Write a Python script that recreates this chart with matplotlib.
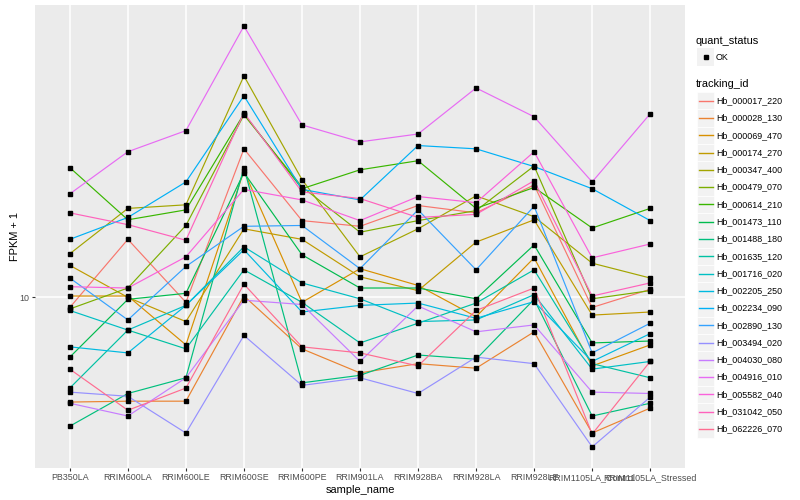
import matplotlib
matplotlib.use('Agg')
import matplotlib.pyplot as plt
from matplotlib.ticker import FixedLocator, NullLocator
from matplotlib.patches import Rectangle
from matplotlib.lines import Line2D
import numpy as np

samples = ["PB350LA", "RRIM600LA", "RRIM600LE", "RRIM600SE", "RRIM600PE",
           "RRIM901LA", "RRIM928BA", "RRIM928LA", "RRIM928LE",
           "RRIM1105LA_Control", "RRIM1105LA_Stressed"]

tracking_ids = ["Hb_000017_220", "Hb_000028_130", "Hb_000069_470", "Hb_000174_270",
                "Hb_000347_400", "Hb_000479_070", "Hb_000614_210", "Hb_001473_110",
                "Hb_001488_180", "Hb_001635_120", "Hb_001716_020", "Hb_002205_250",
                "Hb_002234_090", "Hb_002890_130", "Hb_003494_020", "Hb_004030_080",
                "Hb_004916_010", "Hb_005582_040", "Hb_031042_050", "Hb_062226_070"]

palette = ["#F8766D", "#EA8331", "#D89000", "#C09B00", "#A3A500", "#7CAE00",
           "#39B600", "#00BB4E", "#00BF7D", "#00C1A3", "#00BFC4", "#00BAE0",
           "#00B0F6", "#35A2FF", "#9590FF", "#C77CFF", "#E76BF3", "#FA62DB",
           "#FF62BC", "#FF6C91"]

# FPKM + 1 per sample (order of `samples`)
hb_000017_220 = [9.3, 15.2, 9.65, 29.2, 17.4, 16.7, 19.4, 18.4, 22.5, 9.3, 10.6]
hb_000028_130 = [4.7, 4.73, 4.73, 10.1, 6.9, 5.8, 6.2, 6.0, 7.8, 3.76, 4.5]
hb_000069_470 = [10.1, 10.1, 7.1, 24.9, 9.65, 12.3, 10.9, 8.7, 13.3, 6.1, 7.1]
hb_000174_270 = [12.6, 10.0, 8.4, 16.4, 15.2, 11.6, 10.5, 14.9, 17.5, 8.8, 9.0]
hb_000347_400 = [13.7, 19.0, 19.5, 49.4, 23.4, 13.4, 16.4, 20.8, 17.9, 12.8, 11.5]
hb_000479_070 = [9.2, 10.7, 16.8, 37.3, 22.2, 16.0, 17.4, 18.7, 25.8, 9.9, 10.5]
hb_000614_210 = [25.5, 17.5, 18.8, 37.6, 21.9, 25.1, 26.8, 19.0, 22.1, 16.5, 19.0]
hb_001473_110 = [6.5, 9.86, 10.3, 24.6, 13.6, 10.7, 10.7, 9.9, 14.6, 7.2, 7.3]
hb_001488_180 = [3.95, 5.0, 5.6, 25.5, 5.4, 5.7, 6.6, 6.4, 9.86, 4.25, 4.66]
hb_001635_120 = [5.2, 7.9, 6.9, 12.2, 9.65, 7.2, 8.3, 9.6, 12.2, 6.2, 5.6]
hb_001716_020 = [9.1, 7.9, 9.44, 14.4, 11.1, 9.9, 8.4, 8.5, 10.2, 5.96, 6.3]
hb_002205_250 = [7.0, 6.7, 9.44, 14.1, 9.0, 9.44, 9.6, 8.6, 9.7, 6.3, 7.7]
hb_002234_090 = [15.2, 17.8, 23.0, 42.8, 21.8, 20.2, 29.9, 29.2, 25.7, 21.9, 17.4]
hb_002890_130 = [11.5, 8.5, 12.5, 16.7, 16.8, 12.3, 18.8, 12.2, 19.3, 6.7, 8.3]
hb_003494_020 = [5.05, 4.9, 3.76, 7.6, 5.3, 5.6, 5.0, 6.5, 6.2, 3.4, 4.87]
hb_004030_080 = [4.66, 4.25, 5.6, 9.8, 9.5, 6.3, 9.4, 7.8, 8.2, 5.05, 5.0]
hb_004916_010 = [21.1, 28.6, 33.3, 70.8, 34.7, 30.7, 32.5, 45.3, 36.8, 23.0, 37.6]
hb_005582_040 = [10.8, 10.7, 13.4, 21.8, 20.2, 17.4, 20.7, 19.8, 28.6, 13.3, 14.7]
hb_031042_050 = [18.4, 16.9, 15.1, 37.9, 21.4, 20.4, 17.8, 18.2, 23.2, 10.1, 11.1]
hb_062226_070 = [5.96, 4.43, 5.2, 11.0, 7.0, 6.7, 6.1, 9.1, 10.7, 3.73, 6.3]

series = [hb_000017_220, hb_000028_130, hb_000069_470, hb_000174_270, hb_000347_400,
          hb_000479_070, hb_000614_210, hb_001473_110, hb_001488_180, hb_001635_120,
          hb_001716_020, hb_002205_250, hb_002234_090, hb_002890_130, hb_003494_020,
          hb_004030_080, hb_004916_010, hb_005582_040, hb_031042_050, hb_062226_070]

plt.rcParams['font.family'] = ['Liberation Sans', 'DejaVu Sans']

W, H = 800, 500
fig = plt.figure(figsize=(8, 5), dpi=100)
L, R, T, B = 35, 685, 5, 468
ax = fig.add_axes([L / W, 1 - B / H, (R - L) / W, (B - T) / H])
ax.set_facecolor('#EBEBEB')
for s in ax.spines.values():
    s.set_visible(False)

x = np.arange(len(samples))
for vals, col in zip(series, palette):
    ax.plot(x, vals, color=col, lw=0.85, zorder=3)
for vals in series:
    ax.plot(x, vals, ls='none', marker='s', ms=2.4, color='black', zorder=4)

ax.set_yscale('log')
allv = np.concatenate([np.log10(v) for v in series])
lo, hi = allv.min(), allv.max()
pad = 0.05 * (hi - lo)
ax.set_ylim(10 ** (lo - pad), 10 ** (hi + pad))
ax.set_xlim(-0.6, len(samples) - 0.4)

ax.yaxis.set_major_locator(FixedLocator([10]))
ax.yaxis.set_minor_locator(NullLocator())
ax.set_yticklabels(['10'])
ax.set_xticks(x)
ax.set_xticklabels(samples)
ax.tick_params(axis='both', which='major', length=2.0, width=0.8, color='#333333',
               labelsize=6.4, labelcolor='#4D4D4D', pad=1.8)
ax.grid(True, which='major', color='white', lw=1.1, zorder=0)
ax.set_axisbelow(True)

ax.set_xlabel('sample_name', fontsize=7.9, labelpad=2)
ax.set_ylabel('FPKM + 1', fontsize=7.9, labelpad=0)

# Legends (ggplot style)
def fx(px):
    return px / W

def fy(py):
    return 1 - py / H

fig.text(fx(696), fy(41), 'quant_status', fontsize=7.9, va='center', ha='left')
fig.add_artist(Rectangle((fx(697), fy(65.5)), 17 / W, 17 / H, transform=fig.transFigure,
                         facecolor='#F2F2F2', edgecolor='none'))
fig.add_artist(Line2D([fx(705.5)], [fy(57)], transform=fig.transFigure, marker='s',
                      ms=2.4, color='black', ls='none'))
fig.text(fx(716), fy(57), 'OK', fontsize=6.4, va='center', ha='left')

fig.text(fx(696), fy(84), 'tracking_id', fontsize=7.9, va='center', ha='left')
step = 17.28
for i, (tid, col) in enumerate(zip(tracking_ids, palette)):
    cy = 100.7 + i * step
    fig.add_artist(Rectangle((fx(697), fy(cy + step / 2)), 17 / W, step / H,
                             transform=fig.transFigure, facecolor='#F2F2F2',
                             edgecolor='white', lw=0.5))
    fig.add_artist(Line2D([fx(699), fx(713)], [fy(cy), fy(cy)], transform=fig.transFigure,
                          color=col, lw=1.0))
    fig.text(fx(716), fy(cy), tid, fontsize=6.4, va='center', ha='left')

fig.savefig('out.png', dpi=100, facecolor='white')
